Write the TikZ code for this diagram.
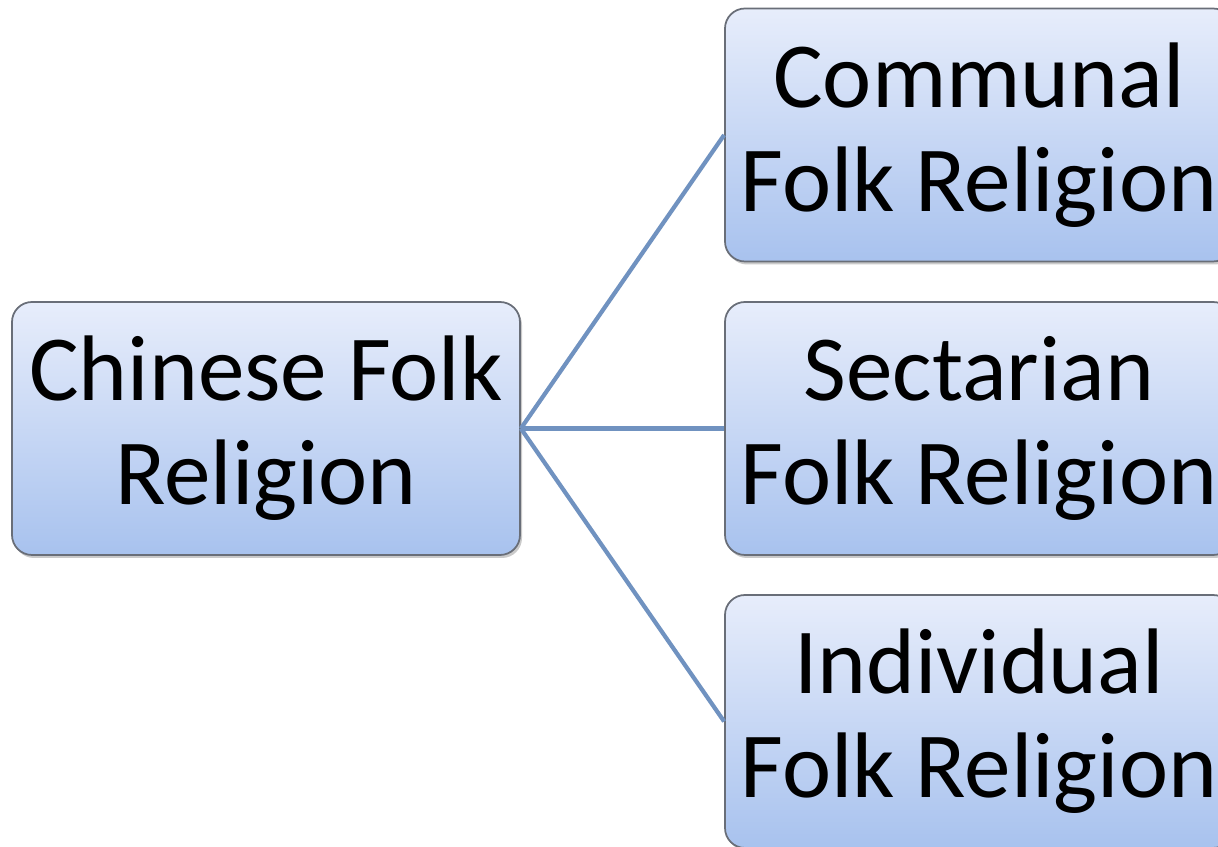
\documentclass[tikz,border=0pt]{standalone}
\usepackage{fontspec}
\setmainfont{Carlito}
\usepackage{tikz}
\usetikzlibrary{shapes,arrows,positioning,calc,shadows}
\usepackage{xcolor}
\definecolor{folktop}{RGB}{231,237,251}
\definecolor{folkbottom}{RGB}{168,194,238}
\definecolor{folkedge}{RGB}{105,110,120}
\definecolor{folklink}{RGB}{112,146,192}
\tikzset{
    folkbox/.style={rectangle, rounded corners=0.2cm, draw=folkedge, line width=0.5pt,
        top color=folktop, bottom color=folkbottom,
        minimum width=5.08cm, minimum height=2.53cm, inner sep=0pt, align=center,
        font=\fontsize{26.5}{29.6}\selectfont,
        drop shadow={shadow xshift=0.02cm, shadow yshift=-0.03cm, opacity=0.35, fill=black!60}},
    link/.style={line width=1.2pt, folklink},
}

\begin{document}
\begin{tikzpicture}
    \useasboundingbox (0,0) rectangle (12.18,-8.47);
    \clip (0,0) rectangle (12.18,-8.47);

    % 根
    \node[folkbox] (root) at (2.66,-4.285) {Chinese Folk\\Religion};

    % 分支
    \node[folkbox] (communal) at (9.79,-1.35) {Communal\\Folk Religion};
    \node[folkbox] (sectarian) at (9.79,-4.285) {Sectarian\\Folk Religion};
    \node[folkbox] (individual) at (9.79,-7.215) {Individual\\Folk Religion};

    % 连线
    \draw[link] (root.east) -- (communal.west);
    \draw[link] (root.east) -- (sectarian.west);
    \draw[link] (root.east) -- (individual.west);
\end{tikzpicture}
\end{document}
